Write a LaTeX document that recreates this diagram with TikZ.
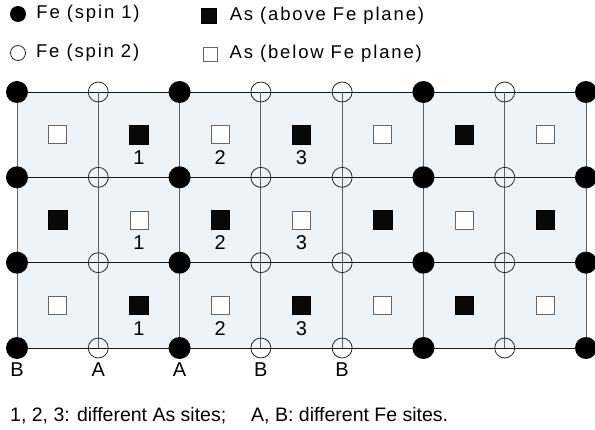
\documentclass[tikz,border=0pt]{standalone}
\usepackage{fontspec}
\setmainfont{Liberation Sans}
\newfontfamily\legendfont[LetterSpace=10]{Liberation Sans}
\usetikzlibrary{positioning,backgrounds}
\definecolor{cellfill}{RGB}{237,243,246}
\definecolor{vgray}{RGB}{95,95,95}

\begin{document}
\begin{tikzpicture}[x=1pt,y=-1pt]
                        \tikzstyle{spinone}=[circle,fill=black,minimum size=22pt,inner sep=0pt]
                        \tikzstyle{spintwo}=[circle,draw=black!85,line width=0.8pt,minimum size=20pt,inner sep=0pt]
                        \tikzstyle{as1}=[rectangle,fill=black!97,draw=black,line width=0.6pt,minimum size=18.5pt,inner sep=0pt]
                        \tikzstyle{as0}=[rectangle,fill=white,draw=black!60,line width=0.8pt,minimum size=18pt,inner sep=0pt]
                        \tikzstyle{sitenum}=[font=\fontsize{20}{23}\selectfont,inner sep=0pt]
                        \tikzstyle{keytext}=[font=\legendfont\fontsize{18.5}{21}\selectfont,inner sep=0pt,anchor=west]
                        \useasboundingbox (0,0) rectangle (595,430);
                        \node[spinone,minimum size=16pt] (keyone) at (18,14) {};
                        \node[keytext,right=10pt of keyone] (keyonetext) {Fe (spin 1)};
                        \node[spintwo,minimum size=15pt] (keytwo) at (18,53) {};
                        \node[keytext,right=10pt of keytwo] (keytwotext) {Fe (spin 2)};
                        \node[as1,minimum size=14.5pt] (keyup) at (209,16) {};
                        \node[keytext,right=13pt of keyup] (keyuptext) {As (above Fe plane)};
                        \node[as0,minimum size=14pt] (keydown) at (210,54) {};
                        \node[keytext,right=12pt of keydown] (keydowntext) {As (below Fe plane)};
                        \begin{scope}[shift={(17,92)},x=81.286pt,y=-85.333pt]
                            \foreach \i/\kind in {0/spinone,1/spintwo,2/spinone,3/spintwo,4/spintwo,5/spinone,6/spintwo,7/spinone}
                                \foreach \r in {0,...,3}
                                    \node[\kind] (f-\i-\r) at (\i,\r) {};
                            \foreach \j in {0,...,6}
                                \foreach \r in {0,...,2}{
                                    \pgfmathtruncatemacro\up{mod(\j+\r,2)}
                                    \node[as\up] (as-\j-\r) at (\j+0.5,\r+0.5) {};
                                }
                        \end{scope}
                        \foreach \j in {1,2,3}
                            \foreach \r in {0,1,2}
                                \node[sitenum,yshift=-23pt] (num-\j-\r) at (as-\j-\r) {\j};
                        \foreach \i/\site in {0/B,1/A,2/A,3/B,4/B}
                            \node[sitenum,yshift=-22pt] (site-\i) at (f-\i-3) {\site};
                        \begin{scope}[on background layer]
                            \fill[cellfill] (f-0-0.center) rectangle (f-7-3.center);
                            \foreach \r in {0,...,3}
                                \draw[line width=0.8pt,black!90] (f-0-\r.center) -- (f-7-\r.center);
                            \foreach \i in {0,...,7}
                                \draw[line width=0.8pt,vgray] (f-\i-0.center) -- (f-\i-3.center);
                        \end{scope}
                        \node[anchor=west,inner sep=0pt,font=\fontsize{19.5}{22}\selectfont] (note) at (10,416)
                            {1, 2, 3: different As sites;\hspace{25pt}A, B: different Fe sites.};
                    \end{tikzpicture}
\end{document}
